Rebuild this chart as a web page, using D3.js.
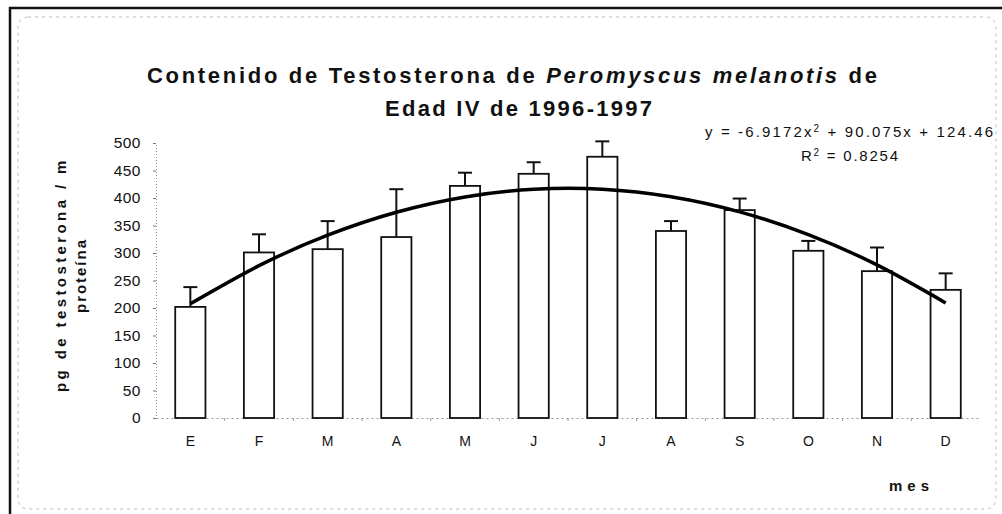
<!DOCTYPE html>
<html>
<head>
<meta charset="utf-8">
<script src="https://cdn.jsdelivr.net/npm/d3@7"></script>
<style>
  body { margin: 0; background: #fff; }
  svg { display: block; font-family: "Liberation Sans", Arial, sans-serif; }
</style>
</head>
<body>
<div id="chart"></div>
<script>
"use strict";

// meses (E..D), valores medios y barra de error (solo hacia arriba)
const months = ["E", "F", "M", "A", "M", "J", "J", "A", "S", "O", "N", "D"];
const values = [202, 301, 307, 329, 422, 444, 475, 340, 378, 304, 267, 233];
const errors = [36, 33, 51, 87, 24, 21, 28, 18, 21, 18, 43, 30];
const yTicks = [0, 50, 100, 150, 200, 250, 300, 350, 400, 450, 500];
// linea de tendencia polinomica: a*x^2 + b*x + c
const trendCoef = [-6.9172, 90.075, 124.46];

function drawChart() {
  const width = 1002,
    height = 514;
  const plot = { left: 156, right: 980, top: 143, bottom: 418 };
  const narrow = '"Liberation Sans Narrow", "Arial Narrow", "Liberation Sans", Arial, sans-serif';

  const svg = d3
    .select("#chart")
    .append("svg")
    .attr("width", width)
    .attr("height", height);

  // marcos
  svg
    .append("rect")
    .attr("x", 18)
    .attr("y", 17)
    .attr("width", 978)
    .attr("height", 492)
    .attr("rx", 10)
    .attr("fill", "none")
    .attr("stroke", "#bbb")
    .attr("stroke-width", 1)
    .attr("stroke-dasharray", "3,4");

  svg
    .append("path")
    .attr("d", "M10," + height + "V8H" + width)
    .attr("fill", "none")
    .attr("stroke", "#111")
    .attr("stroke-width", 2.5);

  const x = d3
    .scaleBand()
    .domain(d3.range(months.length))
    .range([plot.left, plot.right])
    .paddingInner(0.56)
    .paddingOuter(0.28);

  const y = d3.scaleLinear().domain([0, 500]).range([plot.bottom, plot.top]);

  // eje y
  const yAxis = svg
    .append("g")
    .attr("transform", "translate(" + plot.left + ",0)")
    .call(d3.axisLeft(y).tickValues(yTicks).tickSize(3).tickPadding(12));
  yAxis.select(".domain").attr("stroke", "#999").attr("stroke-dasharray", "1,2");
  yAxis.selectAll(".tick line").attr("stroke", "#777");
  yAxis
    .selectAll(".tick text")
    .attr("font-size", 15.5)
    .attr("letter-spacing", 0.5)
    .attr("fill", "#111");

  // eje x
  const xAxis = svg
    .append("g")
    .attr("transform", "translate(0," + plot.bottom + ")")
    .call(
      d3
        .axisBottom(x)
        .tickFormat((i) => months[i])
        .tickSize(0)
        .tickPadding(18)
    );
  xAxis.select(".domain").attr("stroke", "#999").attr("stroke-dasharray", "2,3");
  xAxis.selectAll(".tick text").attr("font-size", 14).attr("fill", "#111");

  // marcas entre categorias
  svg
    .append("g")
    .selectAll("line")
    .data(d3.range(1, months.length))
    .enter()
    .append("line")
    .attr("x1", (i) => x(i) - (x.step() - x.bandwidth()) / 2)
    .attr("x2", (i) => x(i) - (x.step() - x.bandwidth()) / 2)
    .attr("y1", plot.bottom)
    .attr("y2", plot.bottom + 3)
    .attr("stroke", "#999");

  // barras
  svg
    .append("g")
    .selectAll("rect")
    .data(values)
    .enter()
    .append("rect")
    .attr("x", (d, i) => x(i))
    .attr("y", (d) => y(d))
    .attr("width", x.bandwidth())
    .attr("height", (d) => y(0) - y(d))
    .attr("fill", "#fff")
    .attr("stroke", "#111")
    .attr("stroke-width", 1.8);

  // barras de error
  const err = svg.append("g").attr("stroke", "#111").attr("stroke-width", 2);
  values.forEach((v, i) => {
    const cx = x(i) + x.bandwidth() / 2;
    err
      .append("line")
      .attr("x1", cx)
      .attr("x2", cx)
      .attr("y1", y(v))
      .attr("y2", y(v + errors[i]));
    err
      .append("line")
      .attr("x1", cx - 7)
      .attr("x2", cx + 7)
      .attr("y1", y(v + errors[i]))
      .attr("y2", y(v + errors[i]));
  });

  // tendencia
  const trend = months.map((m, i) => {
    const t = i + 1;
    return [i, trendCoef[0] * t * t + trendCoef[1] * t + trendCoef[2]];
  });
  svg
    .append("path")
    .datum(trend)
    .attr("fill", "none")
    .attr("stroke", "#000")
    .attr("stroke-width", 3.5)
    .attr(
      "d",
      d3
        .line()
        .x((d) => x(d[0]) + x.bandwidth() / 2)
        .y((d) => y(d[1]))
        .curve(d3.curveNatural)
    );

  // titulo
  const t1 = svg
    .append("text")
    .attr("x", 147)
    .attr("y", 83)
    .attr("font-family", narrow)
    .attr("font-size", 22)
    .attr("font-weight", "bold")
    .attr("textLength", 730)
    .attr("lengthAdjust", "spacing")
    .attr("fill", "#111");
  t1.append("tspan").text("Contenido de Testosterona de ");
  t1.append("tspan").attr("font-style", "italic").text("Peromyscus melanotis");
  t1.append("tspan").text(" de");

  svg
    .append("text")
    .attr("x", 385)
    .attr("y", 116)
    .attr("font-family", narrow)
    .attr("font-size", 22)
    .attr("font-weight", "bold")
    .attr("textLength", 267)
    .attr("lengthAdjust", "spacing")
    .attr("fill", "#111")
    .text("Edad IV de 1996-1997");

  // ecuacion
  const eq = svg
    .append("text")
    .attr("x", 705)
    .attr("y", 137)
    .attr("font-size", 15)
    .attr("textLength", 288)
    .attr("lengthAdjust", "spacing")
    .attr("fill", "#111");
  eq.append("tspan").text("y = -6.9172x");
  eq.append("tspan").attr("font-size", 10).attr("dy", -5).text("2");
  eq.append("tspan").attr("dy", 5).text(" + 90.075x  + 124.46");

  const r2 = svg
    .append("text")
    .attr("x", 801)
    .attr("y", 161)
    .attr("font-size", 15)
    .attr("textLength", 97)
    .attr("lengthAdjust", "spacing")
    .attr("fill", "#111");
  r2.append("tspan").text("R");
  r2.append("tspan").attr("font-size", 10).attr("dy", -5).text("2");
  r2.append("tspan").attr("dy", 5).text(" = 0.8254");

  // titulos de ejes
  svg
    .append("clipPath")
    .attr("id", "ytitle-clip")
    .append("rect")
    .attr("x", 0)
    .attr("y", 157)
    .attr("width", 150)
    .attr("height", 300);

  const yt = svg.append("g").attr("clip-path", "url(#ytitle-clip)");
  yt.append("text")
    .attr("transform", "translate(66,392) rotate(-90)")
    .attr("font-size", 15)
    .attr("font-weight", "bold")
    .attr("textLength", 244)
    .attr("lengthAdjust", "spacing")
    .attr("fill", "#111")
    .text("pg de testosterona / mg");
  yt.append("text")
    .attr("transform", "translate(86,313) rotate(-90)")
    .attr("font-size", 15)
    .attr("font-weight", "bold")
    .attr("textLength", 73)
    .attr("lengthAdjust", "spacing")
    .attr("fill", "#111")
    .text("proteína");

  svg
    .append("text")
    .attr("x", 889)
    .attr("y", 491)
    .attr("font-size", 15)
    .attr("font-weight", "bold")
    .attr("textLength", 40)
    .attr("lengthAdjust", "spacing")
    .attr("fill", "#111")
    .text("mes");
}

drawChart();
</script>
</body>
</html>
